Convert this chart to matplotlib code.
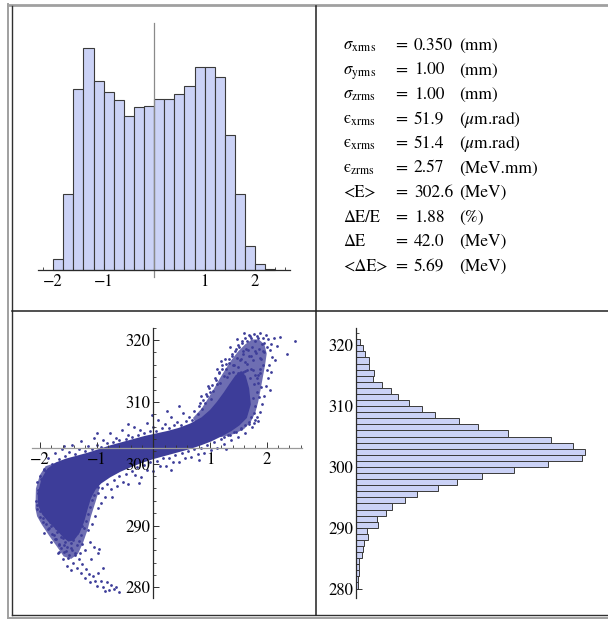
import matplotlib
matplotlib.use("Agg")
import matplotlib.pyplot as plt
from matplotlib.ticker import MultipleLocator, FixedLocator

plt.rcParams["font.family"] = ["STIXGeneral", "DejaVu Serif"]
plt.rcParams["mathtext.fontset"] = "stix"

W, H = 608, 619
BAR_FACE = "#cbd2f6"
BAR_EDGE = "#3a3a3a"
DOT = "#3d3d99"

# --- longitudinal position histogram (mm), 0.2 mm bins from -2.0 ---
z_bin_start = -2.0
z_bin_width = 0.2
z_counts = [31, 226, 540, 663, 565, 532, 508, 461, 486, 490, 511,
            511, 525, 550, 606, 606, 576, 402, 226, 72, 16, 3]

# --- energy histogram (MeV), 1 MeV bins starting at 280 ---
e_bin_lo = list(range(280, 321))
e_counts = [5, 7, 8, 8, 9, 17, 22, 24, 37, 34, 65, 62, 90, 107, 146, 184,
            245, 302, 377, 475, 575, 677, 687, 652, 584, 457, 365, 309, 238,
            197, 160, 125, 104, 79, 52, 55, 38, 38, 27, 22, 12]

# --- beam statistics ---
stat_labels = [r"$\sigma_{\rm xrms}$", r"$\sigma_{\rm yrms}$", r"$\sigma_{\rm zrms}$",
               r"ϵ$_{\rm xrms}$", r"ϵ$_{\rm xrms}$", r"ϵ$_{\rm zrms}$",
               "<E>", "ΔE/E", "ΔE", "<ΔE>"]
stat_values = ["0.350", "1.00", "1.00", "51.9", "51.4", "2.57",
               "302.6", "1.88", "42.0", "5.69"]
stat_units = ["(mm)", "(mm)", "(mm)", r"($\mu$m.rad)", r"($\mu$m.rad)", "(MeV.mm)",
              "(MeV)", "(%)", "(MeV)", "(MeV)"]

# --- z-E phase space: dense core outline, medium-density regions, sparse particles ---
core_z = [-2.04, -1.97, -1.87, -1.72, -1.55, -1.35, -1.15, -0.95, -0.75, -0.55,
          -0.35, -0.15, 0.05, 0.25, 0.45, 0.65, 0.85, 1.00, 1.12, 1.24, 1.35,
          1.45, 1.55, 1.63, 1.69, 1.72,
          1.65, 1.52, 1.38, 1.22, 1.02, 0.82, 0.62, 0.42, 0.22, 0.02, -0.18,
          -0.38, -0.58, -0.76, -0.92, -1.02, -1.10, -1.16, -1.22, -1.30, -1.40,
          -1.50, -1.60, -1.72, -1.85, -1.96, -2.03]
core_e = [295.2, 297.6, 299.2, 300.2, 300.8, 301.3, 301.8, 302.4, 303.0, 303.5,
          304.0, 304.5, 304.9, 305.3, 305.8, 306.5, 307.5, 308.7, 310.0, 311.5, 313.0,
          314.3, 315.0, 314.2, 312.2, 309.6,
          307.4, 306.2, 305.3, 304.5, 303.6, 302.9, 302.3, 301.8, 301.3, 300.8, 300.2,
          299.5, 298.7, 297.8, 296.8, 295.8, 294.4, 292.6, 290.6, 288.8, 287.6,
          287.4, 288.2, 289.4, 290.6, 291.8, 293.2]

hook_z = [-2.08, -2.07, -2.00, -1.90, -1.60, -1.20, -1.05, -0.95, -1.02, -1.10,
          -1.16, -1.24, -1.33, -1.45, -1.58, -1.70, -1.84, -1.97, -2.05]
hook_e = [292.8, 296.0, 298.2, 299.6, 300.5, 300.5, 298.0, 296.0, 293.8, 291.5,
          289.3, 287.2, 285.4, 284.6, 285.0, 286.6, 288.4, 290.2, 291.5]

head_z = [0.70, 0.85, 0.97, 1.08, 1.18, 1.28, 1.38, 1.50, 1.62, 1.74, 1.86, 1.96,
          2.00, 1.97, 1.93, 1.89, 1.85, 1.80, 1.72, 1.60, 1.42, 1.20, 1.00, 0.80]
head_e = [307.4, 308.9, 310.6, 312.3, 313.9, 315.4, 316.8, 318.2, 319.3, 320.1, 320.1, 319.3,
          317.8, 315.9, 313.9, 311.9, 310.0, 308.3, 306.8, 305.6, 304.8, 304.3, 304.5, 305.6]

# particles inside the medium-density regions
head_pz = [0.78, 0.86, 0.92, 0.83, 0.95, 1.02, 1.06, 0.99, 1.13, 1.09, 1.18, 1.16, 1.24,
           1.21, 1.29, 1.27, 1.34, 1.33, 1.38, 1.41, 1.44, 1.47, 1.40, 1.51, 1.53, 1.56,
           1.59, 1.62, 1.65, 1.63, 1.69, 1.71, 1.74, 1.76, 1.79, 1.81, 1.84, 1.86, 1.89,
           1.91, 1.93, 1.96, 1.88, 1.84, 1.90, 1.86, 1.82, 1.80, 1.76, 1.77, 1.73, 1.70,
           1.73, 1.66, 1.79, 1.68, 1.62, 1.55, 1.46, 1.36, 1.25, 1.58, 1.50]
head_pe = [308.0, 308.9, 309.8, 309.9, 311.0, 310.4, 311.8, 312.3, 312.9, 313.8, 313.0, 314.9, 314.2,
           315.9, 315.3, 316.9, 316.3, 314.6, 317.5, 316.0, 318.3, 317.1, 314.8, 318.8, 316.8, 319.5,
           317.8, 316.4, 319.9, 318.6, 317.4, 320.6, 318.9, 316.7, 319.8, 317.9, 320.3, 318.6, 317.1,
           319.4, 315.9, 318.1, 314.6, 313.0, 312.4, 310.8, 311.6, 309.4, 310.6, 308.2, 307.6, 313.8,
           315.4, 315.2, 314.4, 306.7, 306.2, 305.6, 305.1, 304.7, 304.3, 314.9, 314.7]

hook_pz = [-2.06, -2.03, -2.05, -1.99, -2.00, -1.95, -1.93, -1.89, -1.84, -1.80, -1.76, -1.71,
           -1.67, -1.63, -1.57, -1.54, -1.49, -1.44, -1.39, -1.35, -1.31, -1.27, -1.23, -1.19,
           -1.15, -1.12, -1.08, -1.04, -0.98, -1.72, -1.46, -1.60, -1.84, -1.26, -1.52, -1.66]
hook_pe = [293.4, 295.8, 297.0, 292.3, 298.0, 291.2, 299.2, 290.3, 289.6, 290.0, 288.5, 287.9,
           287.0, 286.4, 286.9, 285.9, 285.3, 286.1, 285.6, 286.8, 287.5, 288.4, 289.6, 290.7,
           291.9, 293.0, 294.1, 295.0, 296.2, 289.6, 287.2, 288.0, 291.0, 287.0, 286.5, 285.8]

# sparse particles around the band
upper_z = [-1.93, -1.86, -1.79, -1.74, -1.66, -1.61, -1.55, -1.49, -1.44, -1.38, -1.31,
           -1.27, -1.21, -1.16, -1.09, -1.05, -0.99, -0.93, -0.88, -0.82, -0.77, -0.71,
           -0.66, -0.60, -0.55, -0.49, -0.44, -0.38, -0.34, -0.27, -0.23, -0.17, -0.12,
           -0.06, 0.00, 0.05, 0.09, 0.15, 0.21, 0.27, 0.31, 0.37, 0.42, 0.48, 0.53, 0.58,
           0.63, 0.68, -1.57, -1.00, -0.45, -0.02, 0.24, 0.45, -0.80]
upper_e = [299.0, 300.9, 299.9, 301.8, 300.7, 302.4, 301.2, 301.9, 303.1, 301.6, 302.4,
           303.6, 302.1, 302.8, 302.3, 304.2, 303.0, 302.7, 303.8, 303.3, 305.0, 303.5,
           304.2, 303.9, 305.4, 304.0, 304.7, 304.3, 306.0, 304.6, 305.4, 304.9, 306.6,
           305.3, 305.9, 305.3, 307.1, 305.7, 306.4, 305.8, 307.6, 306.2, 306.8, 306.3, 308.2,
           306.9, 307.5, 307.0, 302.9, 305.0, 306.5, 307.8, 308.6, 309.4, 302.6]

lower_z = [-0.97, -0.91, -0.86, -0.81, -0.75, -0.70, -0.64, -0.60, -0.54, -0.49, -0.44,
           -0.38, -0.33, -0.28, -0.22, -0.17, -0.11, -0.06, 0.00, 0.06, 0.12, 0.17, 0.23,
           0.28, 0.34, 0.39, 0.45, 0.50, 0.56, 0.61, 0.67, 0.72, 0.78, 0.84, 0.89, 0.95,
           1.01, 1.07, 1.13, 1.19, 1.25, 1.31, 1.37, 1.43, 1.49, 1.55, 1.61, 1.68, 1.74,
           1.79, -0.72, -0.26, 0.32, 0.80, 1.28]
lower_e = [295.3, 296.0, 294.6, 296.7, 295.9, 297.3, 296.4, 298.0, 297.1, 298.4, 296.8,
           298.9, 298.1, 299.4, 297.9, 299.8, 299.0, 300.2, 298.9, 300.4, 299.7, 300.9, 299.6,
           301.0, 300.3, 301.4, 300.2, 301.7, 300.9, 302.0, 301.1, 302.4, 301.5, 302.6, 301.8,
           303.1, 302.2, 303.5, 302.6, 304.0, 303.2, 304.6, 303.8, 305.1, 304.3, 305.7, 305.0,
           306.4, 306.0, 307.0, 294.6, 296.9, 299.0, 300.6, 302.4]

front_z = [0.72, 0.80, 0.88, 0.93, 1.00, 1.04, 1.10, 1.15, 1.22, 1.28, 1.33, 1.38, 1.45,
           1.50, 1.57, 1.62, 1.68, 1.73, 1.78, 1.83, 1.88, 1.93, 1.98, 2.03, 2.08, 2.12,
           2.18, 2.23, 2.36, 2.50, 2.05, 2.10, 2.04, 2.08, 2.02, 1.98, 2.05, 1.95, 1.92,
           1.88, 1.83, 1.78, 1.85, 1.20, 1.12, 0.96, 0.84, 1.35, 1.48, 1.60, 1.94, 2.00,
           2.15, 1.72, 1.80, 1.66, 1.90, 1.55, 1.42, 1.75, 1.85, 1.62, 1.30, 1.50, 1.78,
           1.82, 1.88, 1.95, 2.00, 1.67, 1.58]
front_e = [308.6, 309.4, 310.3, 311.2, 311.6, 312.8, 313.5, 314.6, 315.3, 316.2, 317.0, 317.8, 318.6,
           319.2, 319.8, 320.4, 320.9, 320.3, 321.0, 320.6, 321.2, 320.4, 320.9, 320.1, 319.4, 320.3,
           319.0, 320.5, 317.8, 319.8, 318.4, 317.2, 316.0, 314.9, 313.8, 312.6, 312.0, 310.9, 309.6,
           308.4, 307.5, 306.6, 306.9, 316.6, 315.4, 312.6, 311.0, 318.9, 320.1, 321.2, 318.3, 315.1,
           316.8, 317.5, 318.2, 316.1, 316.9, 317.0, 316.0, 315.2, 314.3, 315.0, 314.0, 315.6, 312.9,
           313.8, 315.4, 319.5, 318.8, 318.4, 318.2]

tail_z = [-2.07, -2.05, -2.04, -2.00, -1.98, -1.94, -1.90, -1.86, -1.82, -1.78, -1.74, -1.70,
          -1.66, -1.62, -1.58, -1.55, -1.50, -1.46, -1.42, -1.38, -1.34, -1.31, -1.28, -1.25,
          -1.21, -1.18, -1.14, -1.11, -1.07, -1.03, -1.00, -0.97, -0.93, -0.89, -0.85, -0.82,
          -0.78, -0.74, -0.70, -0.66, -0.60, -1.20, -1.12, -1.05, -0.98, -0.95, -1.15, -1.08,
          -1.02, -0.97, -0.93, -1.30, -1.42, -1.60, -1.75, -1.88, -1.35, -1.25, -1.45, -1.10,
          -0.88, -1.60, -1.52, -1.68, -1.80, -1.92]
tail_e = [294.0, 292.6, 295.3, 291.4, 297.6, 290.5, 298.9, 289.5, 290.6, 288.7, 287.9, 289.0,
          286.8, 288.2, 285.7, 287.4, 284.8, 286.3, 283.9, 285.2, 283.2, 284.6, 282.3, 283.8,
          281.5, 283.0, 282.2, 280.8, 281.9, 281.1, 280.3, 282.3, 281.0, 280.0, 279.4, 280.9,
          279.6, 280.4, 279.7, 280.0, 279.2, 286.0, 287.4, 286.5, 285.5, 286.2, 289.3, 290.2,
          291.6, 292.8, 293.6, 285.6, 287.6, 289.8, 290.9, 292.0, 288.8, 290.0, 282.8, 284.6,
          283.2, 284.6, 283.4, 285.5, 287.3, 288.8]

fig = plt.figure(figsize=(W / 100, H / 100), dpi=100)


def px_axes(x0, y0, x1, y1):
    ax = fig.add_axes([x0 / W, 1 - y1 / H, (x1 - x0) / W, (y1 - y0) / H])
    ax.set_facecolor("none")
    return ax


def math_axes(ax, xpos, ypos, xcolor, ycolor):
    """Mathematica-style axes crossing inside the plot."""
    ax.spines["top"].set_visible(False)
    ax.spines["right"].set_visible(False)
    ax.spines["bottom"].set_position(("data", ypos))
    ax.spines["left"].set_position(("data", xpos))
    ax.spines["bottom"].set_color(xcolor)
    ax.spines["left"].set_color(ycolor)
    ax.spines["bottom"].set_linewidth(0.9)
    ax.spines["left"].set_linewidth(0.9)
    ax.tick_params(which="both", direction="in", labelsize=12, pad=3,
                   color="#333333")
    ax.tick_params(which="major", length=4, width=0.7)
    ax.tick_params(which="minor", length=2, width=0.6)


# ---- top left: z histogram ----
ax1 = px_axes(38, 22.7, 290, 277)
z_left = [z_bin_start + i * z_bin_width for i in range(len(z_counts))]
ax1.bar(z_left, z_counts, width=z_bin_width, align="edge",
        color=BAR_FACE, edgecolor=BAR_EDGE, linewidth=0.8)
ax1.set_xlim(-2.30, 2.69)
ax1.set_ylim(-22, 740)
math_axes(ax1, 0, 0, "#2a2a2a", "#8a8a8a")
ax1.xaxis.set_major_locator(FixedLocator([-2, -1, 1, 2]))
ax1.xaxis.set_minor_locator(MultipleLocator(0.2))
ax1.set_xticklabels(["\u22122", "\u22121", "1", "2"])
ax1.set_yticks([])

# ---- bottom left: z-E scatter ----
ax3 = px_axes(31.7, 327.7, 301.7, 597.7)
ax3.fill(hook_z, hook_e, color=DOT, alpha=0.75, lw=0, zorder=1)
ax3.fill(head_z, head_e, color=DOT, alpha=0.75, lw=0, zorder=1)
ax3.fill(core_z, core_e, color=DOT, lw=0, zorder=1.1)
for zs, es in [(head_pz, head_pe), (hook_pz, hook_pe), (upper_z, upper_e),
               (lower_z, lower_e), (front_z, front_e), (tail_z, tail_e)]:
    ax3.scatter(zs, es, s=4, color=DOT, linewidths=0, zorder=1.2)
ax3.set_xlim(-2.145, 2.617)
ax3.set_ylim(278.33, 322.0)
math_axes(ax3, 0, 302.5, "#9a9a9a", "#2a2a2a")
ax3.xaxis.set_major_locator(FixedLocator([-2, -1, 1, 2]))
ax3.xaxis.set_minor_locator(MultipleLocator(0.2))
ax3.set_xticklabels(["\u22122", "\u22121", "1", "2"])
ax3.yaxis.set_major_locator(FixedLocator([280, 290, 300, 310, 320]))
ax3.yaxis.set_minor_locator(MultipleLocator(2))
ax3.tick_params(axis="y", pad=2)

# ---- bottom right: energy histogram ----
ax4 = px_axes(356, 327.7, 600, 598.3)
ax4.barh(e_bin_lo, e_counts, height=1, align="edge",
         color=BAR_FACE, edgecolor=BAR_EDGE, linewidth=0.7)
ax4.set_xlim(0, 732)
ax4.set_ylim(278.4, 322.9)
math_axes(ax4, 0, 278.4, "#2a2a2a", "#2a2a2a")
ax4.spines["bottom"].set_visible(False)
ax4.set_xticks([])
ax4.yaxis.set_major_locator(FixedLocator([280, 290, 300, 310, 320]))
ax4.yaxis.set_minor_locator(MultipleLocator(2))
ax4.tick_params(axis="y", pad=2)

# ---- grid frame and statistics table ----
frame = fig.add_axes([0, 0, 1, 1])
frame.set_xlim(0, W)
frame.set_ylim(H, 0)
frame.axis("off")
frame.plot([7.5, 7.5], [3.5, 618], color="#a0a0a0", lw=1.4)
frame.plot([7.5, W], [4.5, 4.5], color="#a0a0a0", lw=2.0)
frame.plot([7.5, W], [617.5, 617.5], color="#a0a0a0", lw=1.4)
frame.plot([11.5, 11.5], [6, 614.5], color="#303030", lw=1.0)
frame.plot([11.5, W], [614.5, 614.5], color="#303030", lw=1.0)
frame.plot([316, 316], [6, 614.5], color="#202020", lw=1.1)
frame.plot([11.5, W], [311, 311], color="#202020", lw=1.1)

row0, row_step = 50, 24.5
for i, (lab, val, unit) in enumerate(zip(stat_labels, stat_values, stat_units)):
    y = row0 + i * row_step
    frame.text(343, y, lab, fontsize=12, ha="left", va="baseline")
    frame.text(401, y, "=", fontsize=12.5, ha="center", va="baseline")
    frame.text(414, y, val, fontsize=12.5, ha="left", va="baseline")
    frame.text(459, y, unit, fontsize=12.5, ha="left", va="baseline")

fig.savefig("out.png", dpi=100)
